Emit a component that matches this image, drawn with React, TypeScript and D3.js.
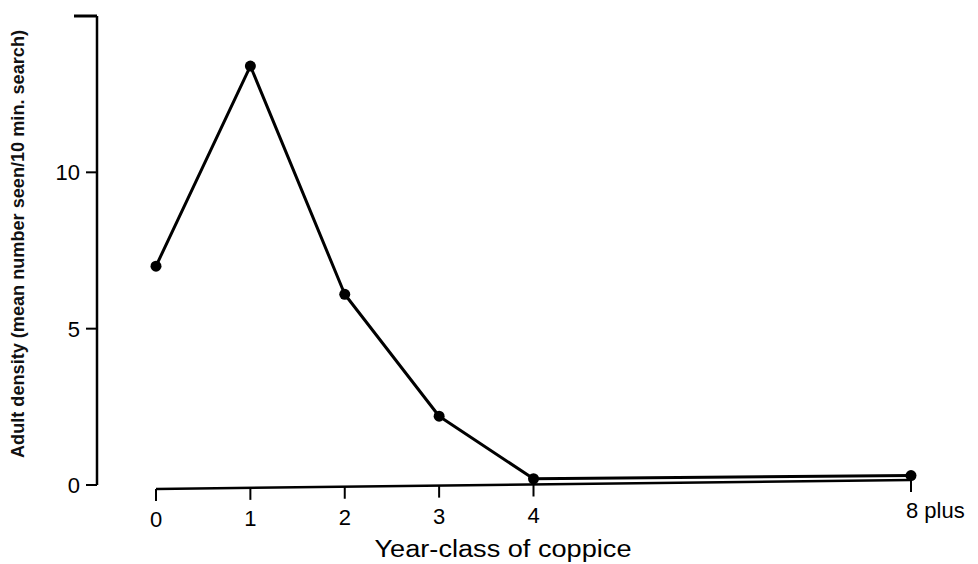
import React from "react";
import * as d3 from "d3";

// year-class values and adult density
const yearClass = [0, 1, 2, 3, 4, 8];
const density = [7.0, 13.4, 6.1, 2.2, 0.2, 0.3];
const xTickValues = [0, 1, 2, 3, 4, 8];
const xTickLabels = ["0", "1", "2", "3", "4", "8 plus"];
const yTickValues = [0, 5, 10];

const W = 978;
const H = 564;

const App = () => {
  // scales
  const x = d3.scaleLinear().domain([0, 8]).range([156, 911]);
  const y = d3.scaleLinear().domain([0, 15]).range([485, 16]);
  // the scanned x axis runs slightly uphill
  const base = d3.scaleLinear().domain([0, 8]).range([y(0) + 4, y(0) - 5]);

  const line = d3
    .line<number>()
    .x((d, i) => x(yearClass[i]))
    .y((d) => y(d));

  const axisX = 97;
  const font = "'Liberation Sans', Arial, sans-serif";

  return (
    <svg width={W} height={H} style={{ position: "absolute", left: 0, top: 0, background: "#fff" }}>
      {/* y axis */}
      <line x1={axisX} x2={axisX} y1={y(15)} y2={y(0)} stroke="#000" strokeWidth={2.5} />
      <line x1={axisX - 23} x2={axisX} y1={y(15)} y2={y(15)} stroke="#000" strokeWidth={3} />
      {yTickValues.map((v) => (
        <g key={v}>
          <line x1={axisX - 11} x2={axisX} y1={y(v)} y2={y(v)} stroke="#000" strokeWidth={2} />
          <text x={axisX - 17} y={y(v)} dy="0.36em" textAnchor="end" fontFamily={font} fontSize={22}>
            {v}
          </text>
        </g>
      ))}
      <text
        transform={`translate(24,${244}) rotate(-90)`}
        textAnchor="middle"
        fontFamily={font}
        fontSize={18}
        fontWeight="bold"
        fill="#111"
        textLength={428}
        lengthAdjust="spacingAndGlyphs"
      >
        Adult density (mean number seen/10 min. search)
      </text>

      {/* x axis */}
      <line x1={x(0)} x2={x(8)} y1={base(0)} y2={base(8)} stroke="#000" strokeWidth={2.5} />
      {xTickValues.map((v, i) => (
        <g key={v}>
          <line x1={x(v)} x2={x(v)} y1={base(v)} y2={base(v) + 12} stroke="#000" strokeWidth={2} />
          <text
            x={i === xTickValues.length - 1 ? x(v) - 5 : x(v)}
            y={base(v) + 38}
            textAnchor={i === xTickValues.length - 1 ? "start" : "middle"}
            fontFamily={font}
            fontSize={22}
          >
            {xTickLabels[i]}
          </text>
        </g>
      ))}
      <text
        x={503}
        y={557}
        textAnchor="middle"
        fontFamily={font}
        fontSize={23}
        textLength={257}
        lengthAdjust="spacingAndGlyphs"
      >
        Year-class of coppice
      </text>

      {/* series */}
      <path d={line(density) || ""} fill="none" stroke="#000" strokeWidth={3} strokeLinejoin="round" />
      {density.map((d, i) => (
        <circle key={i} cx={x(yearClass[i])} cy={y(d)} r={5.5} fill="#000" />
      ))}
    </svg>
  );
};

export default App;
